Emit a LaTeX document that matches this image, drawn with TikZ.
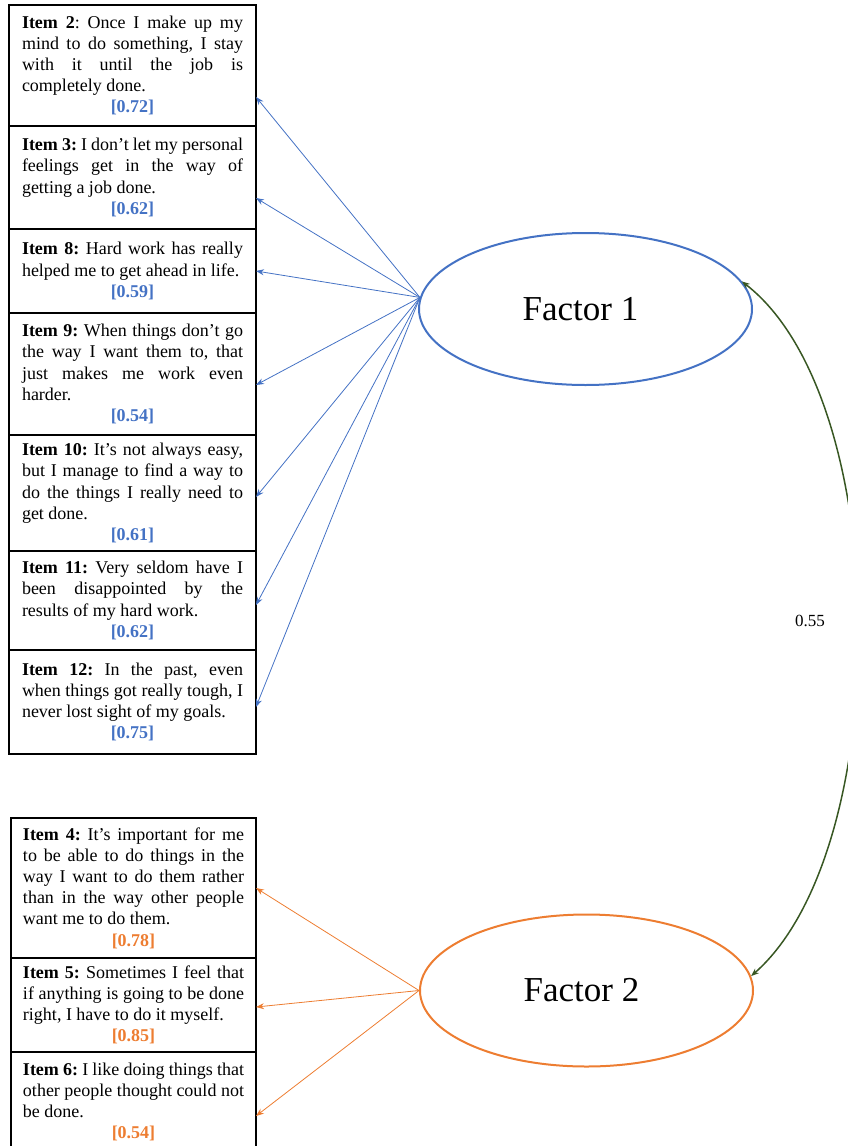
\documentclass[tikz,border=0pt]{standalone}
\usepackage{fontspec}
\setmainfont{Liberation Serif}
\usetikzlibrary{shapes.geometric,arrows.meta}
\definecolor{fblue}{HTML}{4472C4}
\definecolor{forange}{HTML}{ED7D31}
\definecolor{corrgreen}{HTML}{385723}
\hyphenpenalty=10000
\exhyphenpenalty=10000
\tolerance=9999
\frenchspacing
\setlength{\parindent}{0pt}

\begin{document}
\begin{tikzpicture}[x=1pt,y=-1pt,>={Stealth[length=8pt,width=6pt]}]
  \tikzset{item/.style={draw, line width=1.5pt, outer sep=0pt, anchor=north west, text width=221pt, inner xsep=13pt, align=justify, font=\fontsize{18}{21.2}\selectfont},
    factor/.style={ellipse, draw, line width=2pt, minimum width=333pt, minimum height=152pt, font=\fontsize{35}{40}\selectfont},
    load/.style={->, line width=0.8pt}}
  \useasboundingbox (0,0) rectangle (848,1146);

  % first factor and its items
  \node[item, minimum height=121pt] (item2) at (9,5) {\textbf{Item 2}: Once I make up my\linebreak mind to do something, I stay\linebreak with it until the job is\linebreak completely done.\par{\centering\color{fblue}\bfseries [0.72]\par}};
  \node[item, minimum height=103pt] (item3) at (9,126) {\textbf{Item 3:} I don’t let my personal feelings get in the way of getting a job done.\par{\centering\color{fblue}\bfseries [0.62]\par}};
  \node[item, minimum height=84pt] (item8) at (9,229) {\textbf{Item 8:} Hard work has really helped me to get ahead in life.\par{\centering\color{fblue}\bfseries [0.59]\par}};
  \node[item, minimum height=122pt] (item9) at (9,313) {\textbf{Item 9:} When things don’t go\linebreak the way I want them to, that\linebreak just makes me work even\linebreak harder.\par{\centering\color{fblue}\bfseries [0.54]\par}};
  \node[item, minimum height=116pt] (item10) at (9,435) {\textbf{Item 10:} It’s not always easy, but I manage to find a way to do the things I really need to get done.\par{\centering\color{fblue}\bfseries [0.61]\par}};
  \node[item, minimum height=99pt] (item11) at (9,551) {\textbf{Item 11:} Very seldom have I\linebreak been disappointed by the\linebreak results of my hard work.\par{\centering\color{fblue}\bfseries [0.62]\par}};
  \node[item, minimum height=104pt] (item12) at (9,650) {\textbf{Item 12:} In the past, even when things got really tough, I never lost sight of my goals.\par{\centering\color{fblue}\bfseries [0.75]\par}};

  \node[factor, fblue, text=black] (f1) at (585.5,309) {Factor 1\kern10pt};

  % second factor and its items
  \node[item, inner xsep=12pt, minimum height=140pt] (item4) at (11,818) {\textbf{Item 4:} It’s important for me\linebreak to be able to do things in the\linebreak way I want to do them rather\linebreak than in the way other people\linebreak want me to do them.\par{\centering\color{forange}\bfseries [0.78]\par}};
  \node[item, inner xsep=12pt, minimum height=94pt] (item5) at (11,958) {\textbf{Item 5:} Sometimes I feel that if anything is going to be done right, I have to do it myself.\par{\centering\color{forange}\bfseries [0.85]\par}};
  \node[item, inner xsep=12pt, minimum height=100pt] (item6) at (11,1052) {\textbf{Item 6:} I like doing things that other people thought could not be done.\par{\centering\color{forange}\bfseries [0.54]\par}};

  \node[factor, forange, text=black] (f2) at (586.5,990.5) {Factor 2\kern10pt};

  % loadings
  \draw[load, fblue] (f1.176) -- ([yshift=-31.5pt]item2.east);
  \draw[load, fblue] (f1.176) -- ([yshift=-20.5pt]item3.east);
  \draw[load, fblue] (f1.176) -- (item8.east);
  \draw[load, fblue] (f1.176) -- ([yshift=-11pt]item9.east);
  \draw[load, fblue] (f1.176) -- ([yshift=-4pt]item10.east);
  \draw[load, fblue] (f1.176) -- ([yshift=-4.5pt]item11.east);
  \draw[load, fblue] (f1.176) -- ([yshift=-5pt]item12.east);
  \draw[load, forange] (f2.west) -- (item4.east);
  \draw[load, forange] (f2.west) -- ([yshift=-2pt]item5.east);
  \draw[load, forange] (f2.west) -- ([yshift=-14pt]item6.east);

  % correlation
  \draw[<->, corrgreen, line width=1.5pt] (f1.10) .. controls (895,400) and (895,850) .. (f2.5);
  \node[font=\fontsize{17}{20}\selectfont] (corr) at (810,621) {0.55};
\end{tikzpicture}
\end{document}
